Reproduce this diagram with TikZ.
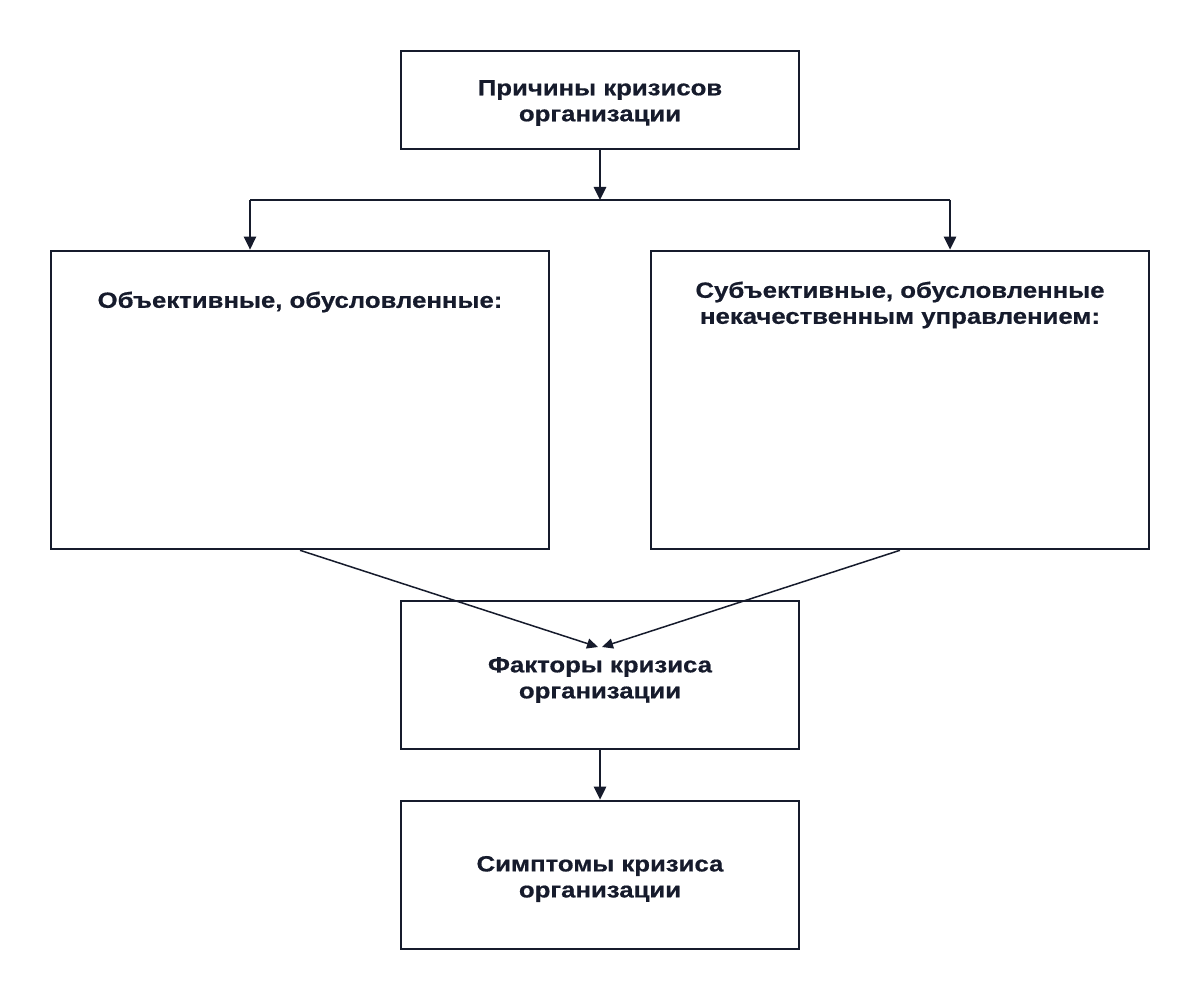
\documentclass[tikz,border=0pt]{standalone}
\usepackage{fontspec}
\setmainfont{Liberation Sans}[BoldFeatures={FakeStretch=1.17,FakeBold=0.6}]
\usetikzlibrary{arrows.meta}
\definecolor{ink}{HTML}{161B2C}
\begin{document}
\begin{tikzpicture}[x=1pt,y=-1pt,
  box/.style={draw=ink,line width=2.6pt,inner sep=0pt},
  lbl/.style={text=ink,font=\bfseries\fontsize{22}{26}\selectfont,align=center},
  arr/.style={draw=ink,line width=2.6pt,-{Triangle[length=13pt,width=12pt]}},
  thin/.style={draw=ink,line width=1.5pt,-{Triangle[length=11pt,width=10pt]}}]
\useasboundingbox[fill=white] (0,0) rectangle (1200,1000);
\node[box,minimum width=398pt,minimum height=98pt] (top) at (600,100) {};
\node[lbl] (toptxt) at (600,103) {Причины кризисов\\организации};
\node[box,minimum width=498pt,minimum height=298pt] (left) at (300,400) {};
\node[lbl] (lefttxt) at (300,302) {Объективные, обусловленные:};
\node[box,minimum width=498pt,minimum height=298pt] (right) at (900,400) {};
\node[lbl] (righttxt) at (900,305) {Субъективные, обусловленные\\некачественным управлением:};
\node[box,minimum width=398pt,minimum height=148pt] (fact) at (600,675) {};
\node[lbl] (facttxt) at (600,680) {Факторы кризиса\\организации};
\node[box,minimum width=398pt,minimum height=148pt] (symp) at (600,875) {};
\node[lbl] (symptxt) at (600,879) {Симптомы кризиса\\организации};
\coordinate (j) at (600,200);
\coordinate (jl) at (250,200);
\coordinate (jr) at (950,200);
\coordinate (tl) at (598,647);
\coordinate (tr) at (602,647);
\draw[arr] (top.south) -- (j);
\draw[draw=ink,line width=2.6pt] (jl) -- (jr);
\draw[arr] (jl) -- (jl |- left.north);
\draw[arr] (jr) -- (jr |- right.north);
\draw[thin] (left.south) -- (tl);
\draw[thin] (right.south) -- (tr);
\draw[arr] (fact.south) -- (symp.north);
\end{tikzpicture}
\end{document}
